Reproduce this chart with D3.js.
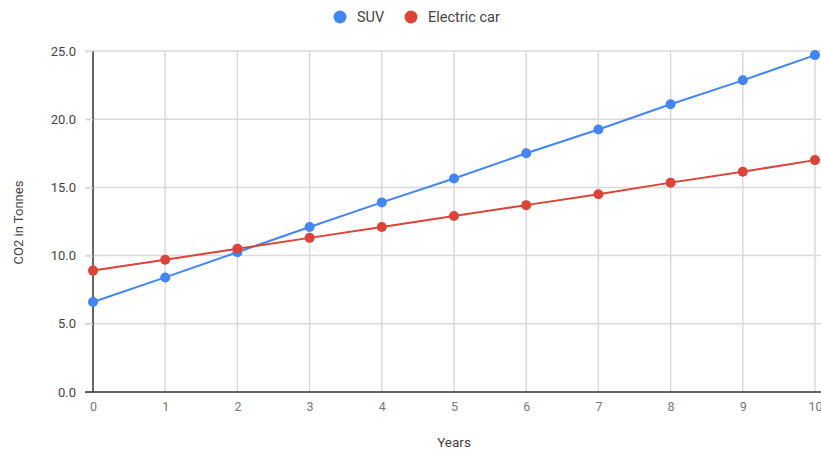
<!DOCTYPE html>
<html>
<head>
<meta charset="utf-8">
<script src="https://cdn.jsdelivr.net/npm/d3@7"></script>
<style>
  html, body { margin: 0; padding: 0; background: #fff; }
  svg { display: block; font-family: Roboto, Arial, sans-serif; }
</style>
</head>
<body>
<svg id="chart" width="821" height="450"></svg>
<script>
// Cumulative CO2 emissions over ten years of ownership
const years = [0, 1, 2, 3, 4, 5, 6, 7, 8, 9, 10];
const suv = [6.6, 8.4, 10.25, 12.1, 13.9, 15.65, 17.5, 19.25, 21.1, 22.85, 24.7];
const electric = [8.9, 9.7, 10.5, 11.3, 12.1, 12.9, 13.7, 14.5, 15.35, 16.15, 17.0];
const yTicks = [0, 5, 10, 15, 20, 25];
const seriesNames = ["SUV", "Electric car"];
const seriesColors = ["#4285f4", "#db4437"];

const svg = d3.select("#chart");
const plot = { left: 93, right: 815, top: 51, bottom: 392 };

const x = d3.scaleLinear().domain([0, 10]).range([plot.left, plot.right]);
const y = d3.scaleLinear().domain([0, 25]).range([plot.bottom, plot.top]);

// Gridlines
svg.append("g")
  .selectAll("line")
  .data(yTicks.filter(d => d > 0))
  .join("line")
  .attr("x1", plot.left - 8).attr("x2", plot.right + 6)
  .attr("y1", d => y(d)).attr("y2", d => y(d))
  .attr("stroke", "#dadada").attr("stroke-width", 1.5);

svg.append("g")
  .selectAll("line")
  .data(years.filter(d => d > 0))
  .join("line")
  .attr("x1", d => x(d)).attr("x2", d => x(d))
  .attr("y1", plot.top).attr("y2", plot.bottom)
  .attr("stroke", "#dadada").attr("stroke-width", 1.5);

// Axes drawn through d3-axis, then restyled
const yAxis = svg.append("g")
  .attr("transform", `translate(${plot.left},0)`)
  .call(d3.axisLeft(y).tickValues(yTicks).tickFormat(d3.format(".1f")).tickSize(8).tickPadding(9));
yAxis.select(".domain").attr("stroke", "#333").attr("stroke-width", 1.5).attr("d", `M0,${plot.top}V${plot.bottom}`);
yAxis.selectAll(".tick line").attr("stroke", "#dadada").attr("stroke-width", 1.5);
yAxis.selectAll(".tick text").attr("fill", "#444").style("font-size", "13px").style("font-family", "Roboto, Arial, sans-serif");

const xAxis = svg.append("g")
  .attr("transform", `translate(0,${plot.bottom})`)
  .call(d3.axisBottom(x).tickValues(years).tickFormat(d3.format("d")).tickSize(0).tickPadding(10));
xAxis.select(".domain").attr("stroke", "#333").attr("stroke-width", 1.5).attr("d", `M${plot.left - 8},0H${plot.right + 6}`);
xAxis.selectAll(".tick text").attr("fill", "#777").style("font-size", "12.5px").style("font-family", "Roboto, Arial, sans-serif");

// Axis titles
svg.append("text")
  .attr("x", x(5)).attr("y", 447)
  .attr("text-anchor", "middle")
  .attr("fill", "#444").style("font-size", "13.5px")
  .text("Years");

svg.append("text")
  .attr("transform", `translate(23,${(plot.top + plot.bottom) / 2 + 1}) rotate(-90)`)
  .attr("text-anchor", "middle")
  .attr("fill", "#444").style("font-size", "13px")
  .text("CO2 in Tonnes");

// Series lines and points
const series = [suv, electric];
const line = d3.line().x((d, i) => x(years[i])).y(d => y(d));

series.forEach((vals, s) => {
  svg.append("path")
    .datum(vals)
    .attr("d", line)
    .attr("fill", "none")
    .attr("stroke", seriesColors[s])
    .attr("stroke-width", 2);
  svg.append("g")
    .selectAll("circle")
    .data(vals)
    .join("circle")
    .attr("cx", (d, i) => x(years[i]))
    .attr("cy", d => y(d))
    .attr("r", 5)
    .attr("fill", seriesColors[s]);
});

// Legend
const legendX = [340, 411];
const legend = svg.append("g");
seriesNames.forEach((name, s) => {
  legend.append("circle")
    .attr("cx", legendX[s]).attr("cy", 17).attr("r", 6.5)
    .attr("fill", seriesColors[s]);
  legend.append("text")
    .attr("x", legendX[s] + 17).attr("y", 22)
    .attr("fill", "#444").style("font-size", "14.5px")
    .text(name);
});
</script>
</body>
</html>
